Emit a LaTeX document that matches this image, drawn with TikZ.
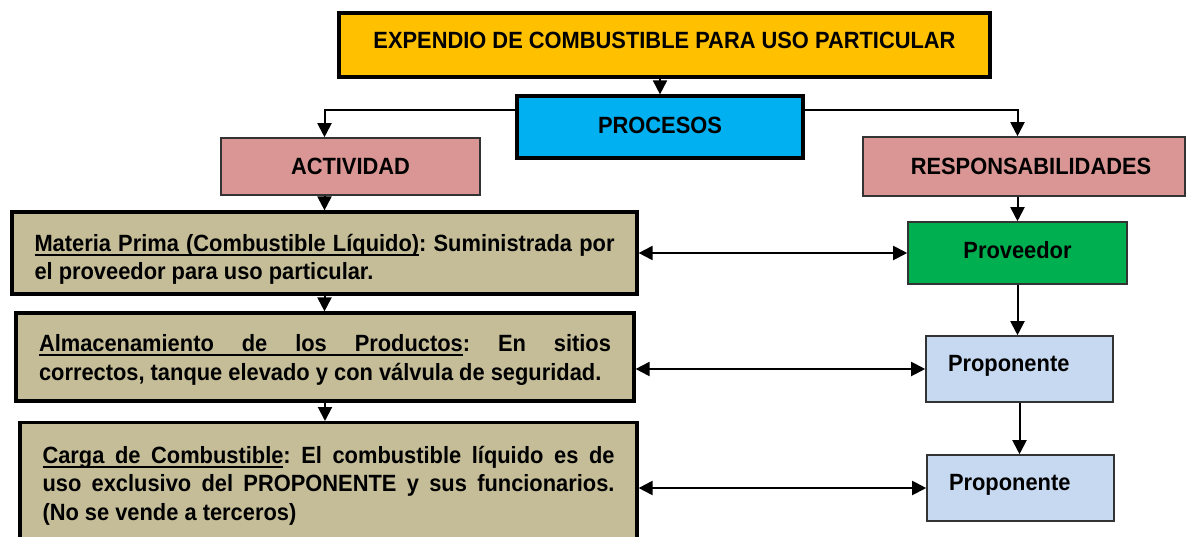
\documentclass[tikz,border=0pt]{standalone}
\usepackage{fontspec}
\setmainfont{Liberation Sans}[FakeStretch=0.93]
\usepackage{xcolor}
\usepackage{tikz}
\usetikzlibrary{arrows.meta,positioning,calc}
\frenchspacing

\definecolor{amarillo}{HTML}{FFC000}
\definecolor{cian}{HTML}{00B0F0}
\definecolor{rosa}{HTML}{D99694}
\definecolor{arena}{HTML}{C4BD97}
\definecolor{verde}{HTML}{00B050}
\definecolor{celeste}{HTML}{C6D9F1}

% palabra subrayada y espacio subrayado que se estira
\newcommand\sw[1]{\setbox0\hbox{#1}\rlap{\vrule height -2.6pt depth 4.2pt width \wd0}\box0}
\newcommand\ssp{\leaders\hrule height -2.6pt depth 4.2pt\hskip\fontdimen2\font plus \fontdimen3\font minus \fontdimen4\font}

\tikzset{
  texto/.style={font=\bfseries\fontsize{23.5}{28.3}\selectfont, inner sep=0pt},
  grueso/.style={texto, draw=black, line width=3.2pt},
  fino/.style={texto, draw=black!80, line width=1.6pt},
  flecha/.style={-{Triangle[length=14pt,width=14pt]}, line width=2pt},
  doble/.style={{Triangle[length=14pt,width=14pt]}-{Triangle[length=14pt,width=14pt]}, line width=2pt}
}

\begin{document}
\begin{tikzpicture}[x=1pt,y=-1pt]
  \clip (0,0) rectangle (1187,536);
  % cabecera
  \node[grueso, fill=amarillo, minimum width=651pt, minimum height=64pt, text depth=9pt] (titulo) at (664.5,45) {EXPENDIO DE COMBUSTIBLE PARA USO PARTICULAR};
  \node[grueso, fill=cian, minimum width=286pt, minimum height=62pt, text depth=4pt] (procesos) at (660,127) {PROCESOS};
  \node[fino, fill=rosa, minimum width=259pt, minimum height=57pt] (actividad) at (350.5,166.5) {ACTIVIDAD};
  \node[fino, fill=rosa, minimum width=322pt, minimum height=59pt] (resp) at (1024,166.5) {\hspace*{14pt}RESPONSABILIDADES};
  % actividades
  \node[grueso, fill=arena, minimum width=625pt, minimum height=82pt, text width=580pt, align=justify] (materia) at (324.5,253)
    {\rule{0pt}{30pt}\sw{Materia}\ssp\sw{Prima}\ssp\sw{(Combustible}\ssp\sw{Líquido)}: Suministrada por\linebreak el proveedor para uso particular.};
  \node[grueso, fill=arena, minimum width=618pt, minimum height=88pt, text width=572pt, align=justify] (almac) at (325,357)
    {\rule{0pt}{23pt}\sw{Almacenamiento}\ssp\sw{de}\ssp\sw{los}\ssp\sw{Productos}: En sitios\linebreak correctos, tanque elevado y con válvula de seguridad.};
  \node[grueso, fill=arena, minimum width=617pt, minimum height=140pt, anchor=north] (carga) at (328.5,421) {};
  \node[texto, text width=572pt, align=justify, anchor=north] (cargatxt) at ([yshift=-25pt]carga.north)
    {\sw{Carga}\ssp\sw{de}\ssp\sw{Combustible}: El combustible líquido es de\linebreak uso exclusivo del PROPONENTE y sus funcionarios.\linebreak (No se vende a terceros)};
  % responsables
  \node[fino, fill=verde, minimum width=219pt, minimum height=62pt, text depth=6pt] (proveedor) at (1017.5,253) {Proveedor};
  \node[fino, fill=celeste, minimum width=187pt, minimum height=66pt, text width=143pt, text height=17pt, text depth=13pt] (prop1) at (1019.5,369) {Proponente};
  \node[fino, fill=celeste, minimum width=187pt, minimum height=66pt, text width=143pt, text height=17pt, text depth=13pt] (prop2) at (1020.5,488) {Proponente};
  % conectores
  \draw[flecha] (titulo.south -| procesos.north) -- (procesos.north);
  \draw[flecha] ([yshift=17pt]procesos.west) -| (materia.north |- actividad.north);
  \draw[flecha] ([yshift=17pt]procesos.east) -| (proveedor.north |- resp.north);
  \draw[flecha] (materia.north |- actividad.south) -- (materia.north);
  \draw[flecha] (materia.south) -- (materia.south |- almac.north);
  \draw[flecha] (almac.south) -- (almac.south |- carga.north);
  \draw[flecha] (proveedor.north |- resp.south) -- (proveedor.north);
  \draw[flecha] (proveedor.south) -- (proveedor.south |- prop1.north);
  \draw[flecha] (prop1.south) -- (prop1.south |- prop2.north);
  \draw[doble] (materia.east) -- (proveedor.west);
  \draw[doble] (almac.east |- prop1.west) -- (prop1.west);
  \draw[doble] (carga.east |- prop2.west) -- (prop2.west);
\end{tikzpicture}
\end{document}
